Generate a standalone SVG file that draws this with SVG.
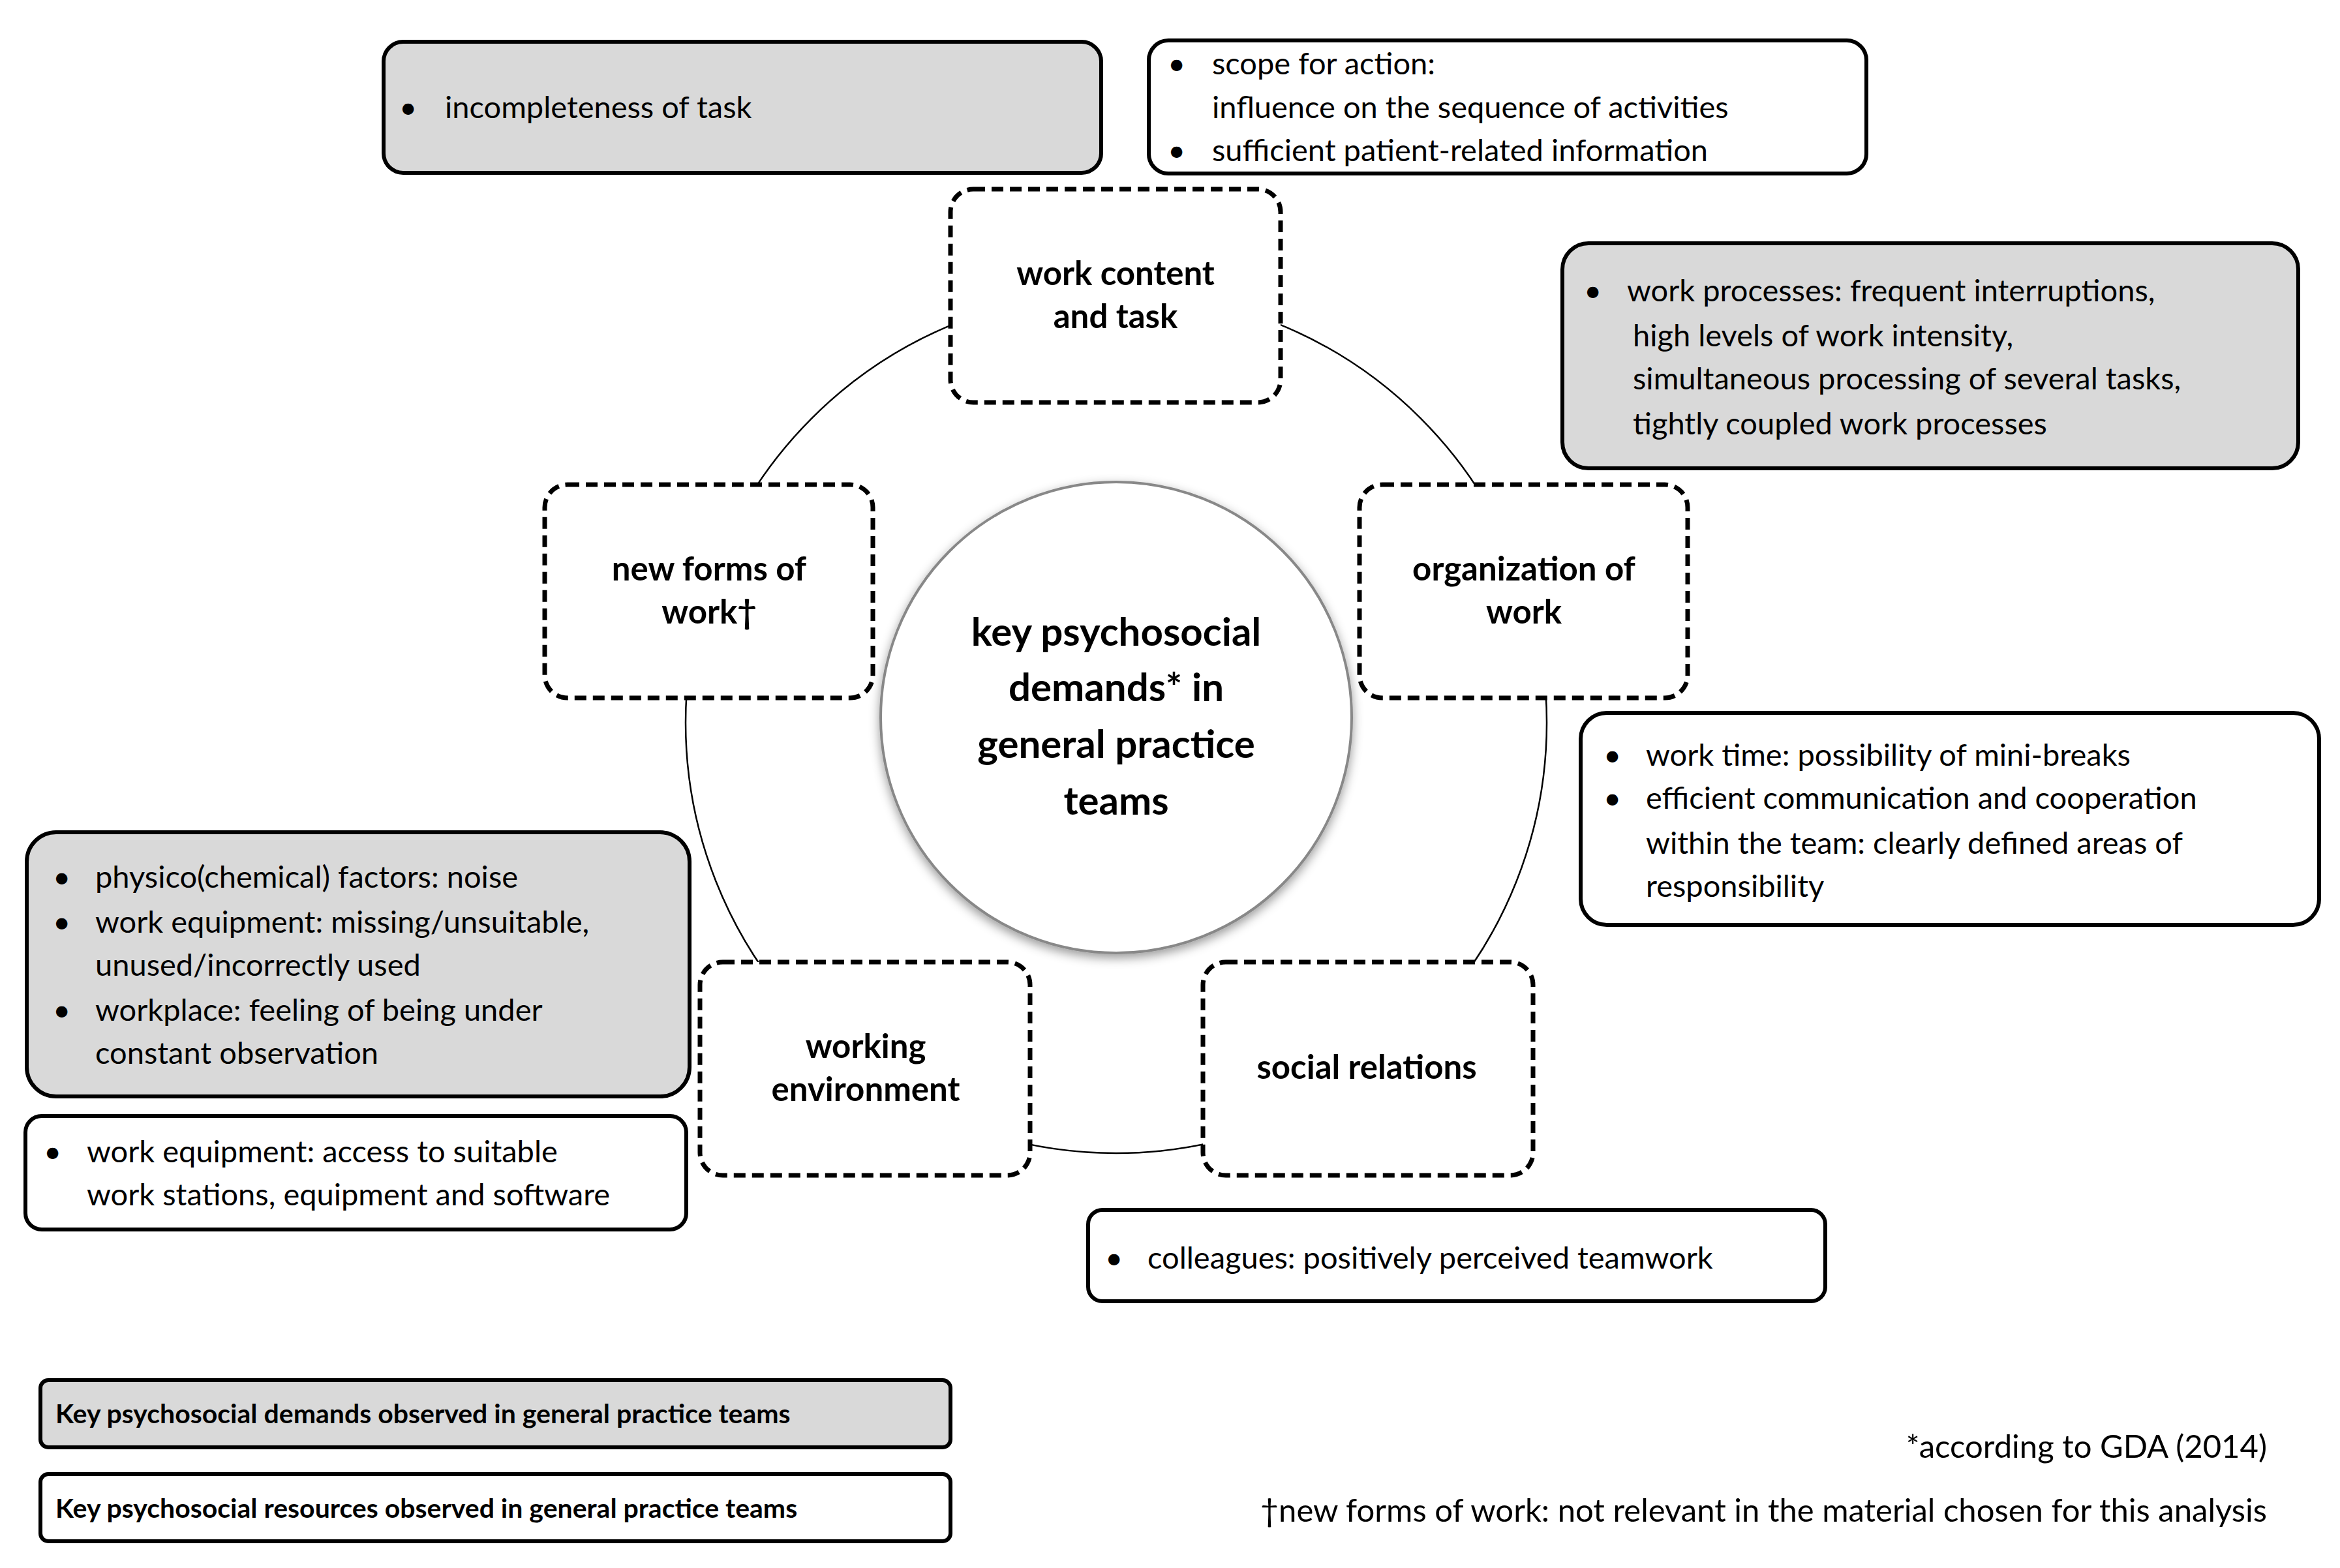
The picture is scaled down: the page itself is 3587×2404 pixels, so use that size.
<svg xmlns="http://www.w3.org/2000/svg" width="3587" height="2404" viewBox="0 0 3587 2404">
<style>
text{font-family:Lato,"Liberation Sans",sans-serif;fill:#000}
.b{font-size:47px}
.n{font-size:51px;font-weight:bold;text-anchor:middle}
.c{font-size:60px;font-weight:bold;text-anchor:middle}
.l{font-size:41px;font-weight:bold}
.f{font-size:49px;text-anchor:end}
.g{fill:#d9d9d9;stroke:#000;stroke-width:6}
.w{fill:#fff;stroke:#000;stroke-width:6}
.d{fill:#fff;stroke:#000;stroke-width:7;stroke-dasharray:18 10}
</style>
<defs>
<filter id="sh" x="-20%" y="-20%" width="140%" height="140%"><feDropShadow dx="0" dy="6" stdDeviation="8" flood-color="#000" flood-opacity="0.4"/></filter>
</defs>
<rect width="3587" height="2404" fill="#fff"/>
<g id="connectors"><circle cx="1711" cy="1108" r="660" fill="none" stroke="#000" stroke-width="2.5"/></g>
<g id="center"><circle cx="1711" cy="1100" r="361" fill="#fff" stroke="#888" stroke-width="4" filter="url(#sh)"/>
<text class="c" x="1711" y="990">key psychosocial</text><text class="c" x="1711" y="1075">demands* in</text><text class="c" x="1711" y="1162">general practice</text><text class="c" x="1711" y="1249">teams</text></g>
<g id="n1"><rect class="d" x="1457" y="290" width="506" height="327" rx="35"/><text class="n" x="1710" y="437">work content</text><text class="n" x="1710" y="503">and task</text></g>
<g id="n2"><rect class="d" x="835" y="743" width="503" height="327" rx="35"/><text class="n" x="1087" y="890">new forms of</text><text class="n" x="1087" y="956">work†</text></g>
<g id="n3"><rect class="d" x="2084" y="743" width="503" height="327" rx="35"/><text class="n" x="2336" y="890">organization of</text><text class="n" x="2336" y="956">work</text></g>
<g id="n4"><rect class="d" x="1073" y="1475" width="506" height="327" rx="35"/><text class="n" x="1327" y="1622">working</text><text class="n" x="1327" y="1688">environment</text></g>
<g id="n5"><rect class="d" x="1844" y="1475" width="506" height="327" rx="35"/><text class="n" x="2095" y="1654">social relations</text></g>
<g id="b1"><rect class="g" x="588" y="64" width="1100" height="201" rx="30"/><text class="b" x="612" y="181">•</text><text class="b" x="682" y="181">incompleteness of task</text></g>
<g id="b2"><rect class="w" x="1761" y="62" width="1100" height="204" rx="30"/><text class="b" x="1790" y="114">•</text><text class="b" x="1858" y="114">scope for action:</text><text class="b" x="1858" y="181">influence on the sequence of activities</text><text class="b" x="1790" y="247">•</text><text class="b" x="1858" y="247">sufficient patient-related information</text></g>
<g id="b3"><rect class="g" x="2395" y="373" width="1128" height="345" rx="40"/><text class="b" x="2428" y="462">•</text><text class="b" x="2494" y="462">work processes: frequent interruptions,</text><text class="b" x="2503" y="531">high levels of work intensity,</text><text class="b" x="2503" y="597">simultaneous processing  of several tasks,</text><text class="b" x="2503" y="666">tightly coupled work processes</text></g>
<g id="b4"><rect class="w" x="2423" y="1093" width="1132" height="325" rx="40"/><text class="b" x="2458" y="1174">•</text><text class="b" x="2523" y="1174">work time: possibility of mini-breaks</text><text class="b" x="2458" y="1240">•</text><text class="b" x="2523" y="1240">efficient communication and cooperation</text><text class="b" x="2523" y="1309">within the team: clearly defined areas of</text><text class="b" x="2523" y="1375">responsibility</text></g>
<g id="b5"><rect class="g" x="41" y="1276" width="1016" height="405" rx="45"/><text class="b" x="81" y="1361">•</text><text class="b" x="146" y="1361">physico(chemical) factors: noise</text><text class="b" x="81" y="1430">•</text><text class="b" x="146" y="1430">work equipment: missing/unsuitable,</text><text class="b" x="146" y="1496">unused/incorrectly used</text><text class="b" x="81" y="1565">•</text><text class="b" x="146" y="1565">workplace: feeling of being under</text><text class="b" x="146" y="1631">constant observation</text></g>
<g id="b6"><rect class="w" x="39" y="1711" width="1013" height="174" rx="25"/><text class="b" x="67" y="1782">•</text><text class="b" x="133" y="1782">work equipment: access to suitable</text><text class="b" x="133" y="1848">work stations, equipment and software</text></g>
<g id="b7"><rect class="w" x="1668" y="1855" width="1130" height="140" rx="22"/><text class="b" x="1694" y="1945">•</text><text class="b" x="1759" y="1945">colleagues: positively perceived teamwork</text></g>
<g id="legend"><rect class="g" x="62" y="2116" width="1395" height="103" rx="12"/><text class="l" x="85" y="2182">Key psychosocial demands observed in general practice teams</text>
<rect class="w" x="62" y="2260" width="1395" height="103" rx="12"/><text class="l" x="85" y="2327">Key psychosocial resources observed in general practice teams</text></g>
<g id="notes"><text class="f" x="3475" y="2235">*according to GDA (2014)</text><text class="f" x="3475" y="2333">†new forms of work: not relevant in the material chosen for this analysis</text></g>
</svg>
